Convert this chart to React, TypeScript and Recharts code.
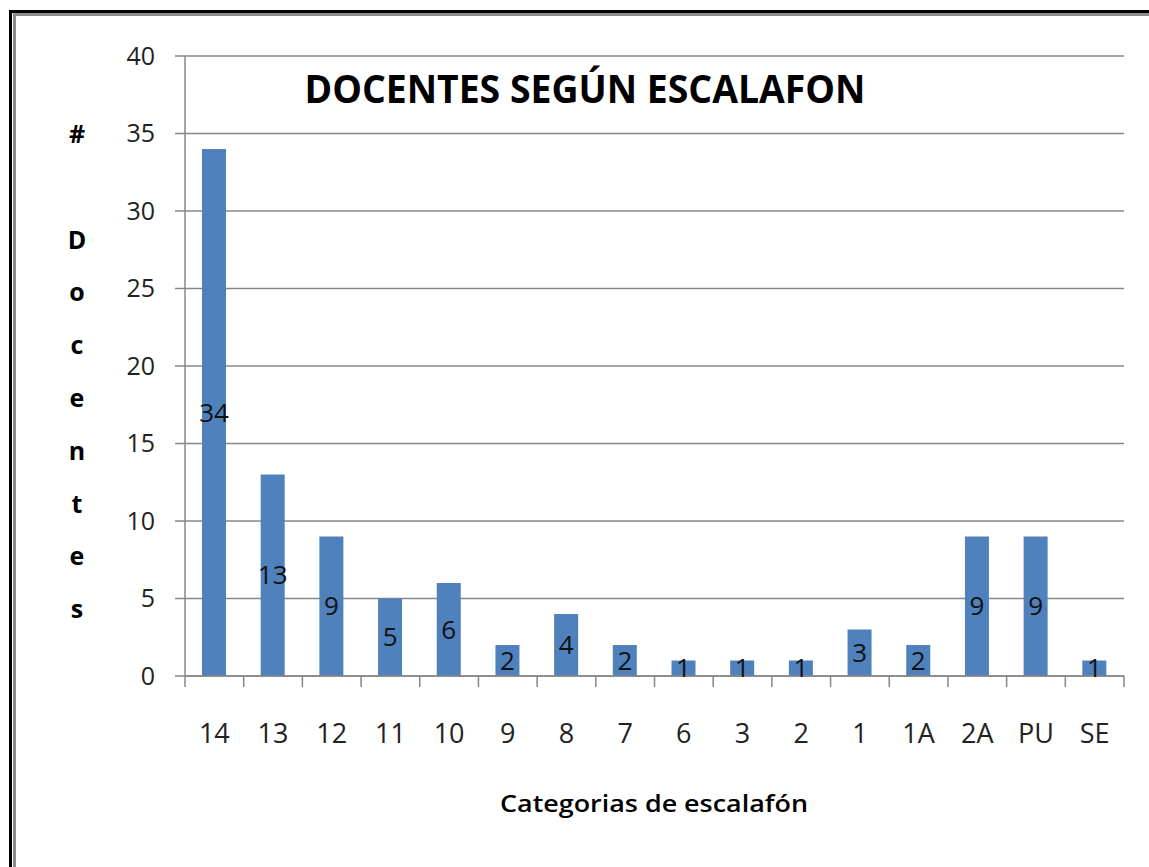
import { BarChart, Bar, XAxis, YAxis, CartesianGrid, LabelList } from "recharts";

const categories = ["14", "13", "12", "11", "10", "9", "8", "7", "6", "3", "2", "1", "1A", "2A", "PU", "SE"];
const docentes = [34, 13, 9, 5, 6, 2, 4, 2, 1, 1, 1, 3, 2, 9, 9, 1];
const yTicks = [0, 5, 10, 15, 20, 25, 30, 35, 40];
const yTitleLines = ["#", "", "D", "o", "c", "e", "n", "t", "e", "s"];

const data = categories.map((c, i) => ({ cat: c, value: docentes[i] }));

const W = 1149;
const H = 867;
const PLOT_LEFT = 185;
const PLOT_RIGHT = 1124;
const PLOT_TOP = 56;
const PLOT_BOTTOM = 676;
const BAND = (PLOT_RIGHT - PLOT_LEFT) / categories.length;
const GRID = "#878787";
const FONT = "'Open Sans', 'DejaVu Sans', sans-serif";

// tick lines sit on the category boundaries, labels in the middle
const XTick = ({ x, y, payload, index }: any) => {
    const last = index === categories.length - 1;
    return (
        <g>
            <line x1={x - BAND / 2} y1={y} x2={x - BAND / 2} y2={y + 11} stroke={GRID} strokeWidth={1.5} />
            {last && <line x1={x + BAND / 2} y1={y} x2={x + BAND / 2} y2={y + 11} stroke={GRID} strokeWidth={1.5} />}
            <text x={x} y={y + 56} textAnchor="middle" dominantBaseline="central" fontSize={27} fill="#222" fontFamily={FONT}>
                {payload.value}
            </text>
        </g>
    );
};

export default function App() {
    return (
        <div style={{ position: "absolute", left: 0, top: 0, width: W, height: H, background: "#fff", overflow: "hidden" }}>
            {/* double frame */}
            <div style={{ position: "absolute", left: 9, top: 10, right: -20, height: 3, background: "#000" }} />
            <div style={{ position: "absolute", left: 9, top: 10, width: 3, bottom: -20, background: "#000" }} />
            <div style={{ position: "absolute", left: 13, top: 13, right: -20, height: 3, background: "#8c8c8c" }} />
            <div style={{ position: "absolute", left: 13, top: 13, width: 3, bottom: -20, background: "#8c8c8c" }} />

            <div style={{ position: "absolute", left: 0, top: 0 }}>
                <BarChart
                    width={W}
                    height={H}
                    data={data}
                    margin={{ top: PLOT_TOP, right: W - PLOT_RIGHT, left: 0, bottom: 0 }}
                >
                    <CartesianGrid vertical={false} stroke={GRID} strokeWidth={1.5} />
                    <XAxis
                        dataKey="cat"
                        height={H - PLOT_BOTTOM}
                        axisLine={{ stroke: GRID, strokeWidth: 1.5 }}
                        tickLine={false}
                        tickSize={0}
                        tickMargin={0}
                        tick={<XTick />}
                        interval={0}
                    />
                    <YAxis
                        width={PLOT_LEFT}
                        domain={[0, 40]}
                        ticks={yTicks}
                        axisLine={{ stroke: GRID, strokeWidth: 1.5 }}
                        tickLine={{ stroke: GRID, strokeWidth: 1.5 }}
                        tickSize={10}
                        tickMargin={20}
                        tick={{ fontSize: 25, fill: "#222", fontFamily: FONT }}
                    />
                    <Bar dataKey="value" fill="#4F81BD" barSize={24} isAnimationActive={false}>
                        <LabelList dataKey="value" position="center" fill="#111" fontSize={26} fontFamily={FONT} />
                    </Bar>
                </BarChart>
            </div>

            <svg width={W} height={H} style={{ position: "absolute", left: 0, top: 0, pointerEvents: "none" }}>
                <text x={585} y={103} textAnchor="middle" fontSize={40} fontWeight="bold" fontFamily={FONT} fill="#000"
                    textLength={561} lengthAdjust="spacingAndGlyphs">
                    DOCENTES SEGÚN ESCALAFON
                </text>
                {yTitleLines.map((ch, i) =>
                    ch ? (
                        <text key={i} x={77} y={133 + i * 52.8} textAnchor="middle" dominantBaseline="central"
                            fontSize={25} fontWeight="bold" fontFamily={FONT} fill="#000">
                            {ch}
                        </text>
                    ) : null
                )}
                <text x={654} y={812} textAnchor="middle" fontSize={24} fontWeight={600} fontFamily={FONT} fill="#000"
                    textLength={308} lengthAdjust="spacingAndGlyphs">
                    Categorias de escalafón
                </text>
            </svg>
        </div>
    );
}
